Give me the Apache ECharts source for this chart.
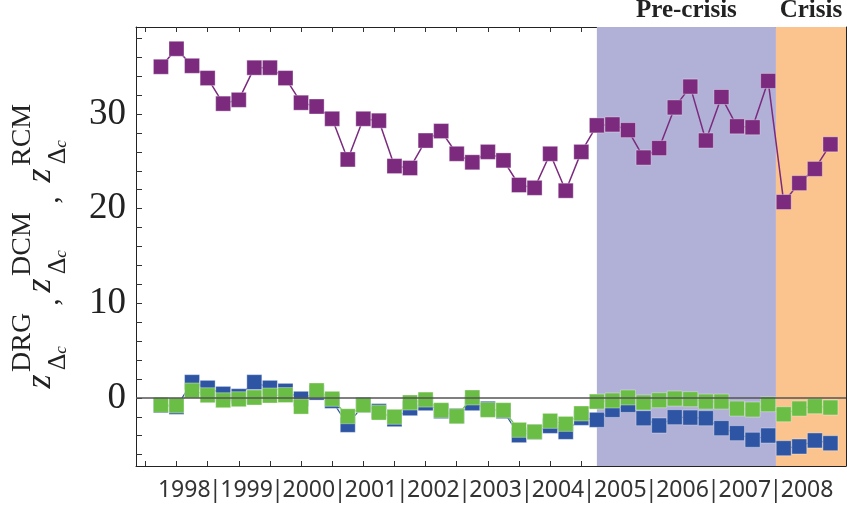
<!DOCTYPE html>
<html>
<head>
<meta charset="utf-8">
<script src="https://cdn.jsdelivr.net/npm/echarts@6/dist/echarts.min.js"></script>
<style>
  html, body { margin: 0; padding: 0; background: #fff; }
  #chart { width: 847px; height: 510px; }
</style>
</head>
<body>
<div id="chart"></div>
<script>
// quarters 1998Q1 .. 2008Q4, one point each
const years = ['1998', '1999', '2000', '2001', '2002', '2003', '2004', '2005', '2006', '2007', '2008']
const rcm = [35.0, 36.9, 35.1, 33.8, 31.1, 31.5, 34.9, 34.9, 33.8, 31.2, 30.8, 29.5, 25.2, 29.5, 29.3, 24.5,
  24.3, 27.2, 28.2, 25.8, 24.9, 26.0, 25.1, 22.5, 22.2, 25.8, 21.9, 26.0, 28.8, 28.9, 28.3, 25.4,
  26.4, 30.7, 32.9, 27.2, 31.8, 28.7, 28.6, 33.5, 20.7, 22.7, 24.2, 26.8]
const dcm = [-0.8, -0.95, 1.66, 1.06, 0.42, 0.18, 1.66, 1.06, 0.74, -0.1, 0.56, -0.32, -2.85, -0.74, -1.4, -2.25,
  -1.09, -0.56, -1.4, -1.9, -0.56, -1.15, -1.4, -3.94, -3.6, -2.96, -3.59, -2.11, -2.32, -1.27, -0.74, -2.15,
  -2.92, -2.04, -2.08, -2.15, -3.2, -3.73, -4.43, -3.98, -5.32, -5.14, -4.5, -4.79]
const drg = [-0.74, -0.8, 0.78, 0.28, -0.25, -0.14, 0.04, 0.25, 0.3, -0.92, 0.78, -0.1, -1.94, -0.77, -1.55, -2.0,
  -0.49, -0.18, -1.3, -1.94, 0.04, -1.27, -1.3, -3.38, -3.59, -2.43, -2.75, -1.65, -0.39, -0.28, 0.04, -0.49,
  -0.25, -0.07, -0.14, -0.39, -0.39, -1.13, -1.23, -0.67, -1.73, -1.13, -0.88, -1.02]
const yLabels = [0, 10, 20, 30]
const preCrisis = [28, 39.5]   // in quarter index units
const crisis = [39.5, 44]
const titleNames = ['DRG', 'DCM', 'RCM']

const pts = arr => arr.map((v, i) => [i, v])
const yearCenters = years.map((y, k) => 4 * k + 1.5)
const yearBounds = years.slice(1).map((y, k) => 4 * k + 3.5)
const xTicks = []
for (let i = -1; i <= 43; i += 2) xTicks.push(i)
const yTicks = []
for (let v = -6; v <= 38; v += 2) yTicks.push(v)

const chart = echarts.init(document.getElementById('chart'))

// y axis title: z_{Δc}^{name} pieces, drawn rotated
const titleParts = []
const starts = [0, 96, 206]
const commas = [91, 193]
titleNames.forEach((name, k) => {
  const s = starts[k]
  titleParts.push(
    { type: 'text', x: s + 11.5, y: -9, style: { text: 'z', font: 'italic 36px "Liberation Serif"', fill: '#222', align: 'center', verticalAlign: 'middle' } },
    { type: 'text', x: s + 31, y: 8, style: { text: 'Δ', font: '26px "Liberation Serif"', fill: '#222', align: 'center', verticalAlign: 'middle' } },
    { type: 'text', x: s + 43, y: 12, style: { text: 'c', font: 'italic 17px "Liberation Serif"', fill: '#222', align: 'center', verticalAlign: 'middle' } },
    { type: 'text', x: s + 21, y: -27, style: { text: name, font: '28px "Liberation Serif"', fill: '#222', align: 'left', verticalAlign: 'middle' } }
  )
})
commas.forEach(c => {
  titleParts.push({ type: 'text', x: c, y: 0, style: { text: ',', font: '30px "Liberation Serif"', fill: '#222', align: 'center', verticalAlign: 'middle' } })
})

const axisBase = {
  type: 'value',
  min: -1.6,
  max: 44,
  axisLine: { show: true, onZero: false, lineStyle: { color: '#222', width: 1 } },
  axisTick: { show: true, inside: true, length: 5, customValues: xTicks, lineStyle: { color: '#333' } },
  splitLine: { show: false }
}

const option = {
  animation: false,
  backgroundColor: '#fff',
  grid: { left: 136, right: 1, top: 27, bottom: 44 },
  xAxis: [
    Object.assign({}, axisBase, {
      position: 'bottom',
      axisLabel: {
        customValues: yearCenters.concat(yearBounds),
        margin: 13,
        fontFamily: 'Noto Sans',
        fontSize: 23,
        color: '#333',
        formatter: v => {
          const k = yearCenters.indexOf(v)
          return k >= 0 ? years[k] : '|'
        }
      }
    }),
    Object.assign({}, axisBase, { position: 'top', axisLabel: { show: false } })
  ],
  yAxis: [
    {
      type: 'value',
      min: -7.2,
      max: 39.2,
      position: 'left',
      axisLine: { show: true, onZero: false, lineStyle: { color: '#222', width: 1 } },
      axisTick: { show: true, inside: true, length: 6, customValues: yTicks, lineStyle: { color: '#333' } },
      axisLabel: {
        customValues: yLabels,
        margin: 10,
        fontFamily: 'Liberation Serif',
        fontSize: 37,
        color: '#222'
      },
      splitLine: { show: false }
    },
    {
      type: 'value',
      min: -7.2,
      max: 39.2,
      position: 'right',
      axisLine: { show: true, onZero: false, lineStyle: { color: '#222', width: 1 } },
      axisTick: { show: true, inside: true, length: 6, customValues: yTicks, lineStyle: { color: '#333' } },
      axisLabel: { show: false },
      splitLine: { show: false }
    }
  ],
  graphic: [
    { type: 'group', x: 50, y: 393, rotation: Math.PI / 2, children: titleParts }
  ],
  series: [
    {
      name: 'DCM',
      type: 'line',
      data: pts(dcm),
      symbol: 'rect',
      symbolSize: 15,
      lineStyle: { color: '#2E55A4', width: 1.2 },
      itemStyle: { color: '#2E55A4', borderColor: 'rgba(255,255,255,0.35)', borderWidth: 1 },
      z: 3,
      markArea: {
        silent: true,
        itemStyle: { opacity: 1 },
        label: {
          position: 'top',
          distance: 4,
          fontFamily: 'Liberation Serif',
          fontWeight: 'bold',
          fontSize: 25,
          color: '#222'
        },
        data: [
          [{ name: 'Pre-crisis', xAxis: preCrisis[0], itemStyle: { color: '#B1B0D6' } }, { xAxis: preCrisis[1] }],
          [{ name: 'Crisis', xAxis: crisis[0], itemStyle: { color: '#FBC48E' } }, { xAxis: crisis[1] }]
        ]
      }
    },
    {
      name: 'DRG',
      type: 'line',
      data: pts(drg),
      symbol: 'rect',
      symbolSize: 15,
      lineStyle: { color: '#6BBE45', width: 1.2 },
      itemStyle: { color: '#6BBE45', borderColor: 'rgba(255,255,255,0.35)', borderWidth: 1 },
      z: 4,
      markLine: {
        silent: true,
        symbol: 'none',
        label: { show: false },
        lineStyle: { color: '#555', width: 1.5, type: 'solid' },
        data: [{ yAxis: 0 }]
      }
    },
    {
      name: 'RCM',
      type: 'line',
      data: pts(rcm),
      symbol: 'rect',
      symbolSize: 15,
      lineStyle: { color: '#7B2A7E', width: 1.5 },
      itemStyle: { color: '#7B2A7E', borderColor: 'rgba(255,255,255,0.35)', borderWidth: 1 },
      z: 5
    }
  ]
}

chart.setOption(option)
</script>
</body>
</html>
